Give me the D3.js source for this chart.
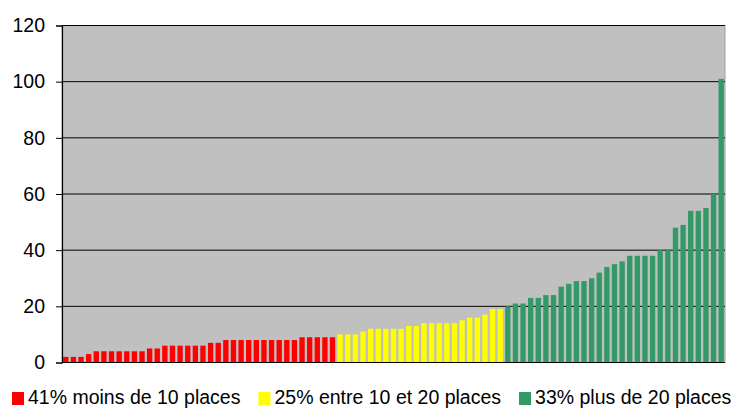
<!DOCTYPE html>
<html>
<head>
<meta charset="utf-8">
<script src="https://cdn.jsdelivr.net/npm/d3@7"></script>
<style>
  body { margin: 0; background: #fff; }
  text { font-family: Arial, 'Liberation Sans', sans-serif; }
</style>
</head>
<body>
<script>
// values, sorted ascending, one array per group
var redValues = [2, 2, 2, 3, 4, 4, 4, 4, 4, 4, 4, 5, 5, 6, 6, 6, 6, 6, 6, 7, 7,
  8, 8, 8, 8, 8, 8, 8, 8, 8, 8, 9, 9, 9, 9, 9];
var yellowValues = [10, 10, 10, 11, 12, 12, 12, 12, 12, 13, 13, 14, 14, 14, 14, 14,
  15, 16, 16, 17, 19, 19];
var greenValues = [20, 21, 21, 23, 23, 24, 24, 27, 28, 29, 29, 30, 32, 34, 35, 36,
  38, 38, 38, 38, 40, 40, 48, 49, 54, 54, 55, 60, 101];
var groupLabels = ['41% moins de 10 places', '25% entre 10 et 20 places', '33% plus de 20 places'];
var groupColors = ['#ff0000', '#ffff00', '#339966'];
var yTicks = [0, 20, 40, 60, 80, 100, 120];

var data = [];
[redValues, yellowValues, greenValues].forEach(function (arr, g) {
  arr.forEach(function (v) {
    data.push({ i: data.length, value: v, group: g });
  });
});

var svg = d3.select('body').append('svg').attr('width', 735).attr('height', 408);

// note: "top" is a reserved window property, so use plot* names
var plotLeft = 62, plotRight = 725, plotTop = 25.5, plotBottom = 362.5;

var xScale = d3.scaleBand()
  .domain(data.map(function (d) { return d.i; }))
  .range([plotLeft, plotRight])
  .paddingInner(0.3)
  .paddingOuter(0.15);
var yScale = d3.scaleLinear().domain([0, 120]).range([plotBottom, plotTop]);

// plot background
svg.append('rect')
  .attr('x', plotLeft).attr('y', plotTop)
  .attr('width', plotRight - plotLeft).attr('height', plotBottom - plotTop)
  .attr('fill', '#c0c0c0')
  .attr('stroke', '#a0a0a0');

// gridlines
svg.append('g')
  .selectAll('line')
  .data(yTicks.slice(1))
  .enter()
  .append('line')
  .attr('x1', plotLeft).attr('x2', plotRight)
  .attr('y1', function (d) { return yScale(d); })
  .attr('y2', function (d) { return yScale(d); })
  .attr('stroke', '#000')
  .attr('stroke-width', 1);

// bars
svg.append('g')
  .selectAll('rect')
  .data(data)
  .enter()
  .append('rect')
  .attr('x', function (d) { return xScale(d.i); })
  .attr('y', function (d) { return yScale(d.value); })
  .attr('width', xScale.bandwidth())
  .attr('height', function (d) { return plotBottom - yScale(d.value); })
  .attr('fill', function (d) { return groupColors[d.group]; });

// y axis
var yAxis = svg.append('g')
  .attr('transform', 'translate(' + plotLeft + ',0)')
  .call(d3.axisLeft(yScale).tickValues(yTicks).tickSize(6).tickPadding(11));
yAxis.select('.domain').attr('stroke', '#000').attr('stroke-width', 1.2);
yAxis.selectAll('.tick line').attr('stroke', '#000');
yAxis.selectAll('.tick text')
  .attr('font-size', '19.5px')
  .attr('fill', '#000')
  .style('font-family', 'Arial, "Liberation Sans", sans-serif');

// x axis line
svg.append('line')
  .attr('x1', plotLeft).attr('x2', plotRight)
  .attr('y1', plotBottom).attr('y2', plotBottom)
  .attr('stroke', '#000')
  .attr('stroke-width', 1.2);

// legend
var legend = svg.append('g').attr('transform', 'translate(0,404)');
var lx = 12;
groupLabels.forEach(function (label, g) {
  legend.append('rect')
    .attr('x', lx).attr('y', -12)
    .attr('width', 12).attr('height', 13)
    .attr('fill', groupColors[g]);
  var t = legend.append('text')
    .attr('x', lx + 16)
    .attr('y', 0)
    .attr('font-size', '19.5px')
    .attr('fill', '#000')
    .text(label);
  lx += 16 + t.node().getComputedTextLength() + 18;
});
</script>
</body>
</html>
